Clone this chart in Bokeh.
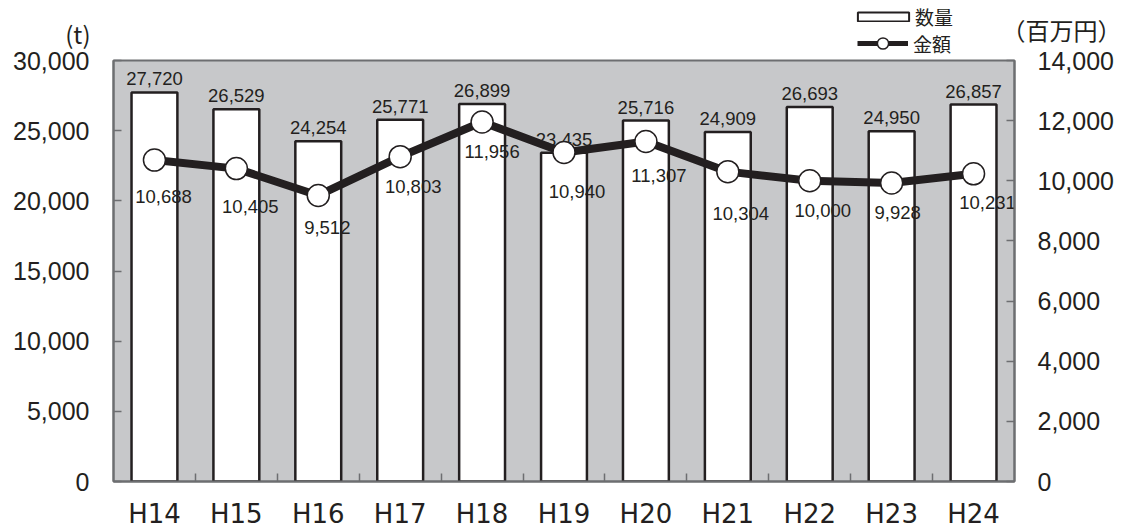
from bokeh.plotting import figure
from bokeh.layouts import column
from bokeh.models import (ColumnDataSource, Range1d, LinearAxis, FixedTicker,
                          NumeralTickFormatter, Legend, LegendItem)
from bokeh.core.properties import value
from bokeh.embed import file_html
from bokeh.resources import INLINE

# ---- data ----
years = ["H14", "H15", "H16", "H17", "H18", "H19", "H20", "H21", "H22", "H23", "H24"]
quantity = [27720, 26529, 24254, 25771, 26899, 23435, 25716, 24909, 26693, 24950, 26857]  # t
amount = [10688, 10405, 9512, 10803, 11956, 10940, 11307, 10304, 10000, 9928, 10231]    # 百万円
left_ticks = [0, 5000, 10000, 15000, 20000, 25000, 30000]
right_ticks = [0, 2000, 4000, 6000, 8000, 10000, 12000, 14000]
left_unit = "(t)"
right_unit = "（百万円）"
series_names = ["数量", "金額"]

# label offsets (style, screen px)
amount_label_dx = [9, 14, 9, 13, 10, 13, 13, 13, 13, 6, 14]
amount_label_dy = [36, 38, 32, 30, 30, 39, 34, 42, 30, 30, 29]

INK = "#231f20"
AXC = "#6d6e71"
BG = "#c7c8ca"
NUM_FONT = "Liberation Sans"
CJK_FONT = "Noto Sans CJK JP"

W, H_TOP, H_MAIN, OVERLAP = 1127, 60, 483, 12
BORDER_L, BORDER_R = 113, 113

xs = list(range(len(years)))
src = ColumnDataSource(dict(
    x=xs, q=quantity, a=amount,
    qlab=[f"{v:,}" for v in quantity],
    alab=[f"{v:,}" for v in amount],
    dx=amount_label_dx, dy=amount_label_dy,
))

# ================= header strip (units + legend) =================
top = figure(width=W, height=H_TOP, output_backend="svg", toolbar_location=None,
             x_range=Range1d(BORDER_L, W - BORDER_R), y_range=Range1d(H_TOP, 0),
             x_axis_type=None, y_axis_type=None)
top.min_border = 0
top.min_border_left = BORDER_L
top.min_border_right = BORDER_R
top.outline_line_color = None
top.xgrid.visible = False
top.ygrid.visible = False
top.background_fill_color = "white"
top.border_fill_color = "white"


def unit_axis(tick, label, standoff):
    ax = LinearAxis(ticker=FixedTicker(ticks=[tick]),
                    major_label_overrides={tick: label})
    ax.axis_line_color = None
    ax.major_tick_line_color = None
    ax.minor_tick_line_color = None
    ax.major_tick_in = 0
    ax.major_tick_out = 0
    ax.major_label_standoff = standoff
    ax.major_label_text_font = CJK_FONT
    ax.major_label_text_font_size = "24px"
    ax.major_label_text_color = INK
    return ax


top.add_layout(unit_axis(33, left_unit, 23), "left")
top.add_layout(unit_axis(29, right_unit, -13), "right")

# legend proxies: same series, drawn in the header's pixel space (falls outside its frame)
leg_bar = top.quad(left="x", right="x", top="q", bottom="q", source=src,
                   fill_color="white", line_color=INK, line_width=2)
leg_line = top.line(x="x", y="a", source=src, line_width=5, line_color=INK)
leg_dot = top.scatter(x="x", y="a", source=src, size=12, fill_color="white",
                      line_color=INK, line_width=1.5)

common = dict(padding=0, margin=0, spacing=0, border_line_color=None,
              background_fill_alpha=0, label_text_font=CJK_FONT,
              label_text_font_size="19px", label_text_color=INK)
leg1 = Legend(items=[LegendItem(label=series_names[0], renderers=[leg_bar])],
              location=(738, 30), glyph_width=64, glyph_height=11,
              label_standoff=0, **common)
leg2 = Legend(items=[LegendItem(label=series_names[1], renderers=[leg_line, leg_dot])],
              location=(744, 3), glyph_width=51, glyph_height=28,
              label_standoff=5, **common)
top.add_layout(leg1)
top.add_layout(leg2)

# ================= main chart =================
p = figure(width=W, height=H_MAIN, output_backend="svg", toolbar_location=None,
           x_range=Range1d(-0.5, len(years) - 0.5),
           y_range=Range1d(left_ticks[0], left_ticks[-1]))
p.margin = (-OVERLAP, 0, 0, 0)
p.min_border = 0
p.min_border_left = BORDER_L
p.min_border_right = BORDER_R
p.min_border_top = OVERLAP
p.min_border_bottom = 50
p.background_fill_color = BG
p.border_fill_color = "white"
p.border_fill_alpha = 0
p.outline_line_color = AXC
p.outline_line_width = 2
p.xgrid.visible = False
p.ygrid.visible = False
p.extra_y_ranges = {"right": Range1d(right_ticks[0], right_ticks[-1])}

xa = p.xaxis[0]
xa.ticker = FixedTicker(ticks=xs, minor_ticks=[i + 0.5 for i in xs[:-1]])
xa.major_label_overrides = {i: y for i, y in zip(xs, years)}
xa.major_tick_in = 0
xa.major_tick_out = 0
xa.minor_tick_in = 8
xa.minor_tick_out = 0
xa.minor_tick_line_color = AXC
xa.minor_tick_line_width = 1.5
xa.axis_line_color = AXC
xa.axis_line_width = 2
xa.major_label_text_font = "DejaVu Sans"
xa.major_label_text_font_size = "26px"
xa.major_label_text_color = INK
xa.major_label_standoff = 17

ya = p.yaxis[0]
ya.ticker = FixedTicker(ticks=left_ticks)
ya.formatter = NumeralTickFormatter(format="0,0")
ya.major_tick_in = 8
ya.major_tick_out = 0
ya.minor_tick_line_color = None
ya.major_tick_line_color = AXC
ya.major_tick_line_width = 1.5
ya.axis_line_color = AXC
ya.axis_line_width = 2
ya.major_label_text_font = NUM_FONT
ya.major_label_text_font_size = "25px"
ya.major_label_text_color = INK
ya.major_label_standoff = 24

ra = LinearAxis(y_range_name="right", ticker=FixedTicker(ticks=right_ticks),
                formatter=NumeralTickFormatter(format="0,0"))
ra.major_tick_in = 8
ra.major_tick_out = 0
ra.minor_tick_line_color = None
ra.major_tick_line_color = AXC
ra.major_tick_line_width = 1.5
ra.axis_line_color = AXC
ra.axis_line_width = 2
ra.major_label_text_font = NUM_FONT
ra.major_label_text_font_size = "25px"
ra.major_label_text_color = INK
ra.major_label_standoff = 23
p.add_layout(ra, "right")

bars = p.vbar(x="x", top="q", width=0.56, bottom=0, source=src,
              fill_color="white", line_color=INK, line_width=2.5)
p.text(x="x", y="q", text="qlab", source=src, text_align="center",
       text_baseline="bottom", y_offset=-7, text_color=INK,
       text_font=value(NUM_FONT), text_font_size="18.5px")

p.line(x="x", y="a", source=src, y_range_name="right", line_width=8,
       line_color=INK, line_join="round")
p.scatter(x="x", y="a", source=src, y_range_name="right", size=22,
          fill_color="white", line_color=INK, line_width=1.5)
p.text(x="x", y="a", text="alab", source=src, y_range_name="right",
       x_offset="dx", y_offset="dy", text_align="center",
       text_baseline="middle", text_color=INK,
       text_font=value(NUM_FONT), text_font_size="18.5px")

layout = column(top, p, spacing=0)
open("out.html", "w").write(file_html(layout, INLINE))
